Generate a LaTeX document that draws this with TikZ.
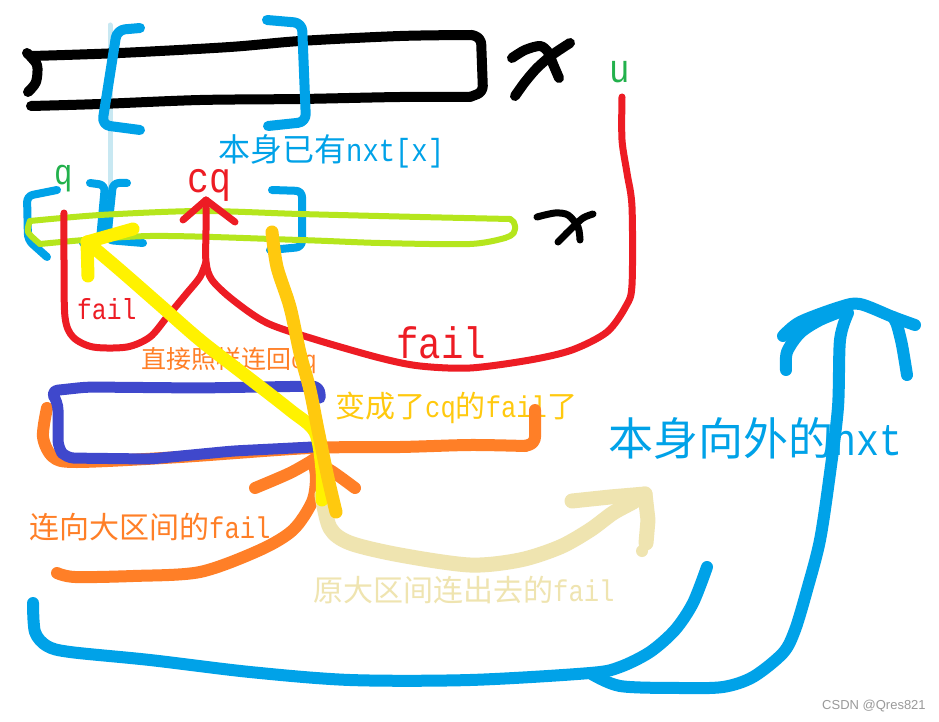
\documentclass[tikz,border=0pt]{standalone}
\usepackage{fontspec}
\newfontfamily\cjk{Noto Sans CJK SC}
\newfontfamily\lat[FakeStretch=0.85]{Liberation Mono}
\newfontfamily\wmfont{Liberation Sans}
\newcommand{\mixtxt}[2]{{\cjk #1}{\lat #2}}
\definecolor{pblue}{HTML}{00A2E8}
\definecolor{lblue}{HTML}{C8E8F2}
\definecolor{pred}{HTML}{ED1C24}
\definecolor{pgreen}{HTML}{22B14C}
\definecolor{lime}{HTML}{B5E61D}
\definecolor{pyellow}{HTML}{FFF200}
\definecolor{gold}{HTML}{FFC90E}
\definecolor{porange}{HTML}{FF7F27}
\definecolor{indigo}{HTML}{3F48CC}
\definecolor{beige}{HTML}{EFE4B0}
\definecolor{wmgray}{HTML}{9A9A9A}
\begin{document}
\begin{tikzpicture}[x=1pt,y=-1pt,
  stroke/.style={line cap=round,line join=round},
  lbl/.style={inner sep=0pt,anchor=west},
  lat/.style={inner sep=0pt,anchor=base west}]
\fill[white] (0,0) rectangle (939,722);
\useasboundingbox (0,0) rectangle (939,722);

% ---------- texts ----------
\node[lbl,text=pblue,font=\fontsize{32}{32}\selectfont] (lab1) at (218,151) {\mixtxt{本身已有}{nxt[x]}};
\node[lbl,text=gold,font=\fontsize{30}{30}\selectfont] (lab2) at (335,408) {{\cjk 变成了}{\lat cq}{\cjk 的}{\lat fail}{\cjk 了}};
\node[lbl,text=porange,font=\fontsize{25}{25}\selectfont] (lab3) at (141,361) {\mixtxt{直接照样连回}{cq}};
\node[lbl,text=porange,font=\fontsize{30}{30}\selectfont] (lab4) at (29,527) {\mixtxt{连向大区间的}{fail}};
\node[lbl,text=beige,font=\fontsize{30}{30}\selectfont] (lab5) at (313,590) {\mixtxt{原大区间连出去的}{fail}};
\node[lbl,text=pblue,font=\fontsize{45}{45}\selectfont] (lab6) at (608,438) {\mixtxt{本身向外的}{nxt}};
\node[lat,text=pred,font={\fontsize{29}{29}\selectfont\lat}] (fail1) at (77,319) {fail};
\node[lat,text=pred,font={\fontsize{44}{44}\selectfont\lat}] (fail2) at (396,358) {fail};
\node[lat,text=pred,font={\fontsize{43}{43}\selectfont\lat}] (cq) at (187,193) {cq};
\node[lat,text=pgreen,font={\fontsize{36}{36}\selectfont\lat}] (q) at (54,185) {q};
\node[lat,text=pgreen,font={\fontsize{40}{40}\selectfont\lat}] (u) at (609,83) {u};
\node[lbl,text=wmgray,font={\wmfont\fontsize{13}{13}\selectfont}] (wm) at (822,706) {CSDN @Qres821};

% ---------- light blue guide ----------
\draw[stroke,line width=5,lblue] (110,25) -- (110,238);

% ---------- black bar ----------
\begin{scope}[stroke,line width=10,black]
\draw plot[smooth] coordinates {(32,56) (120,53) (230,47) (300,41) (400,36) (472,35)};
\draw[rounded corners=6] (472,35) -- (481,38) -- (483,92) -- (470,97);
\draw plot[smooth] coordinates {(470,97) (400,97) (300,99) (200,100) (100,104) (31,106)};
\draw plot[smooth] coordinates {(27,53) (37,65) (36,82) (28,92)};
% top x
\draw plot[smooth] coordinates {(512,58) (525,50) (540,46) (548,52) (553,64) (559,78)};
\draw plot[smooth] coordinates {(515,96) (525,82) (537,68) (552,55) (570,43)};
\end{scope}
\begin{scope}[stroke,line width=7,black]
\draw plot[smooth] coordinates {(537,217) (555,213) (568,215) (578,227) (580,240)};
\draw plot[smooth] coordinates {(558,242) (572,228) (583,218) (593,214)};
\end{scope}

% ---------- blue brackets ----------
\begin{scope}[stroke,line width=10,pblue,rounded corners=8]
\draw (140,28) -- (117,30) -- (102,125) -- (140,130);
\draw (267,20) -- (302,23) -- (306,122) -- (268,126);
\end{scope}
\begin{scope}[stroke,line width=8,pblue,rounded corners=6]
\draw (57,190) -- (27,196) -- (28,240) -- (47,257);
\draw (90,183) -- (105,185) -- (100,240) -- (83,243);
\draw (127,183) -- (113,183) -- (107,240) -- (143,243);
\draw (272,190) -- (302,191) -- (302,247) -- (270,250);
\end{scope}

% ---------- lime box ----------
\begin{scope}[stroke,line width=6,lime]
\draw plot[smooth] coordinates {(30,221) (100,215) (200,211) (300,214) (420,217) (510,219)};
\draw[rounded corners=5] (510,219) -- (515,221) -- (515,234) -- (505,238);
\draw plot[smooth] coordinates {(505,238) (470,244) (380,243) (300,240) (150,236) (40,244)};
\draw plot[smooth] coordinates {(40,244) (28,232) (30,221)};
\end{scope}

% ---------- red fail curves ----------
\begin{scope}[stroke,line width=7,pred]
\draw plot[smooth] coordinates {(622,97) (622,140) (627,173) (632,207) (632,285) (626,306) (607,332) (572,350) (530,360) (470,368) (420,366) (380,358) (317,340) (267,323) (233,300) (212,280) (206,262) (206,230) (206,200)};
\draw plot[smooth] coordinates {(206,262) (200,277) (187,293) (167,317) (150,337) (127,347) (93,347) (73,337) (65,317) (64,260) (64,213)};
\draw (183,220) -- (206,200) -- (235,222);
\end{scope}

% ---------- orange ----------
\begin{scope}[stroke,line width=12,porange]
\draw plot[smooth] coordinates {(47,408) (43,437) (53,457) (77,462) (180,457) (310,448) (400,447) (470,445) (525,446)};
\draw[rounded corners=6] (525,446) -- (535,443) -- (535,410);
\draw plot[smooth] coordinates {(57,573) (75,577) (133,576) (200,572) (260,550) (293,530) (312,502) (316,478) (313,460)};
\draw plot[smooth] coordinates {(255,488) (290,473) (313,460)};
\draw plot[smooth] coordinates {(313,460) (333,472) (355,488)};
\end{scope}

% ---------- indigo box ----------
\draw[stroke,line width=11,indigo,rounded corners=8] (320,398) -- (320,386) -- (200,388) -- (87,387) -- (50,391) -- (58,402) -- (58,448) -- (66,458) -- (150,459) -- (233,451) -- (313,447);

% ---------- beige arrow ----------
\begin{scope}[stroke,line width=15,beige]
\draw plot[smooth] coordinates {(322,495) (330,528) (350,543) (400,555) (470,565) (520,560) (560,547) (590,530) (613,513) (633,502) (645,494)};
\draw (572,501) -- (610,497) -- (645,494) -- (648,520) -- (646,543);
\fill (642,551) circle (6);
\end{scope}

% ---------- yellow arrow ----------
\begin{scope}[stroke,line width=13,pyellow]
\draw plot[smooth] coordinates {(87,242) (120,270) (160,305) (200,340) (245,375) (290,410) (315,432) (322,470) (322,500)};
\draw (133,229) -- (87,242) -- (88,276);
\end{scope}

% ---------- gold stroke ----------
\draw[stroke,line width=13,gold] plot[smooth] coordinates {(272,232) (277,267) (290,307) (300,353) (310,390) (318,430) (328,478) (336,512)};

% ---------- big blue nxt ----------
\begin{scope}[stroke,line width=12,pblue]
\draw plot[smooth] coordinates {(33,603) (35,632) (47,646) (70,652) (150,660) (250,672) (350,680) (470,680) (590,673) (620,667) (650,652) (675,630) (693,603) (707,567)};
\draw plot[smooth] coordinates {(590,673) (620,686) (680,688) (723,687) (753,677) (783,653) (795,630) (807,590) (820,540) (830,473) (838,407) (840,340) (848,313)};
\draw plot[smooth] coordinates {(783,336) (800,322) (840,307) (860,304) (893,317) (915,325)};
\draw plot[smooth] coordinates {(786,370) (787,352) (800,333) (820,320) (845,310)};
\draw plot[smooth] coordinates {(907,375) (902,345) (897,325) (893,317)};
\end{scope}
\end{tikzpicture}
\end{document}
